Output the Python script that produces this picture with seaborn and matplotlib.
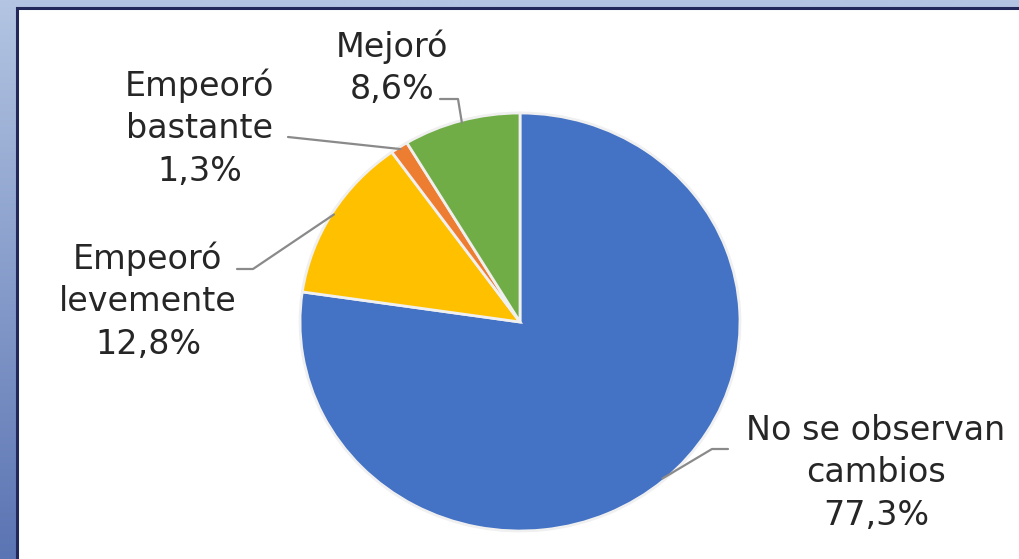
import numpy as np
import matplotlib
matplotlib.use("Agg")
import matplotlib.pyplot as plt
from matplotlib.lines import Line2D
from matplotlib.patches import Rectangle
from matplotlib.colors import LinearSegmentedColormap
import seaborn as sns

# Survey answers, clockwise from 12 o'clock
categories = ["No se observan\ncambios", "Empeoró\nlevemente", "Empeoró\nbastante", "Mejoró"]
shares = [77.3, 12.8, 1.3, 8.6]
slice_colors = ["#4472C4", "#FFC000", "#ED7D31", "#70AD47"]

sns.set_theme(style="white")
plt.rcParams["font.family"] = ["DejaVu Sans"]

W, H = 1020, 559
fig = plt.figure(figsize=(W / 100, H / 100), dpi=100)

# Slide-style frame: blue gradient backdrop with a white panel
bg = fig.add_axes([0, 0, 1, 1])
bg.set_axis_off()
grad = np.linspace(0, 1, 256).reshape(-1, 1)
cmap = LinearSegmentedColormap.from_list("frame", ["#b3c5e2", "#5b74b3"])
bg.imshow(grad, aspect="auto", cmap=cmap, extent=[0, 1, 0, 1], origin="upper")
bg.set_xlim(0, 1)
bg.set_ylim(0, 1)
panel = Rectangle((17 / W, -0.05), 1.1, 1 - 8 / H + 0.05, transform=fig.transFigure,
                  facecolor="white", edgecolor="#23285a", linewidth=2.2, zorder=2)
fig.patches.append(panel)

# Pie area (slightly wider than tall)
cx, cy, rx, ry = 520, 322, 220, 209
ax = fig.add_axes([(cx - rx) / W, 1 - (cy + ry) / H, 2 * rx / W, 2 * ry / H])
ax.set_zorder(3)
wedges, _ = ax.pie(shares, colors=sns.color_palette(slice_colors), startangle=90,
                   counterclock=False, radius=1.0,
                   wedgeprops=dict(edgecolor="#f0f0f0", linewidth=2))
ax.set_aspect("auto")
ax.set_xlim(-1, 1)
ax.set_ylim(-1, 1)
ax.set_axis_off()

# Label positions (pixel centres) and leader-line text-side anchors
label_pos = [(876, 473), (148, 301), (200, 128), (392, 68)]
leader_start = [[(728, 449), (712, 449)],
                [(237, 269), (253, 269)],
                [(288, 137)],
                [(440, 99), (458, 99)]]

text_color = "#262626"
line_color = "#8a8a8a"
for i, (name, val) in enumerate(zip(categories, shares)):
    x, y = label_pos[i]
    fig.text(x / W, 1 - y / H, f"{name}\n{val:.1f}%".replace(".", ","),
             ha="center", va="center", fontsize=24, color=text_color,
             linespacing=1.36, zorder=5)
    w = wedges[i]
    mid = np.deg2rad((w.theta1 + w.theta2) / 2)
    px, py = ax.transData.transform((0.99 * np.cos(mid), 0.99 * np.sin(mid)))
    pts = [(sx, H - sy) for sx, sy in leader_start[i]] + [(px, py)]
    xs, ys = zip(*pts)
    fig.add_artist(Line2D(xs, ys, transform=None, color=line_color,
                          linewidth=1.6, zorder=6))

fig.savefig("out.png", dpi=100)
